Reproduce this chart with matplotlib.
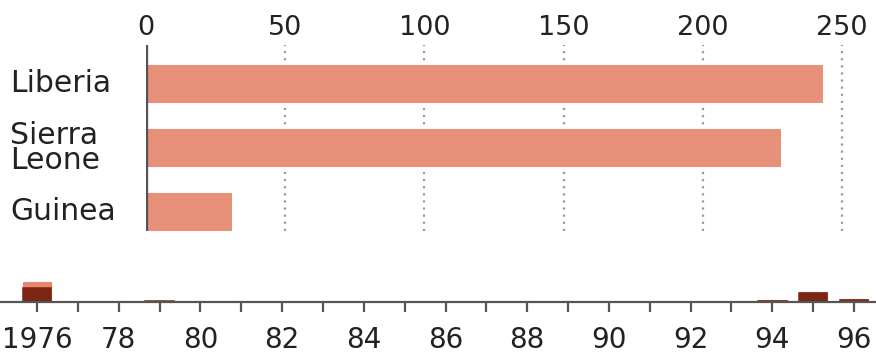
import matplotlib
matplotlib.use("Agg")
import matplotlib.pyplot as plt
import matplotlib.transforms as mtransforms
import numpy as np

# Top panel: totals by country
countries = ["Liberia", "Sierra\nLeone", "Guinea"]
country_values = [243, 228, 31]
top_ticks = [0, 50, 100, 150, 200, 250]

# Bottom panel: yearly cases and deaths
years = [1976, 1977, 1979, 1994, 1995, 1996]
cases = [602, 1, 34, 52, 315, 85]
deaths = [431, 1, 22, 32, 262, 66]
year_ticks = list(range(1976, 1997))
year_labels = ["1976" if y == 1976 else (f"{y % 100:02d}" if y % 2 == 0 else "") for y in year_ticks]

W, H = 876, 354
DPI = 100
fig = plt.figure(figsize=(W / DPI, H / DPI), dpi=DPI)
plt.rcParams["font.family"] = ["DejaVu Sans"]

text_col = "#222222"
bar_col = "#E8917A"
light_col = "#E8876C"
dark_col = "#7B2512"
axis_col = "#555555"

def px_box(left, top, right, bottom):
    return [left / W, 1 - bottom / H, (right - left) / W, (bottom - top) / H]

# ---- top bar chart ----
ax = fig.add_axes(px_box(146, 45, 876, 231))
ypos = np.arange(len(countries))
ax.barh(ypos, country_values, height=0.594, color=bar_col, zorder=2)
px_per_unit = (842 - 146) / 250
ax.set_xlim(0, (876 - 146) / px_per_unit)
ax.set_ylim(2 + (231 - 212) / 64, -(84 - 45) / 64)
for t in top_ticks[1:]:
    ax.axvline(t, color="#9a9a9a", lw=1.6, ls=(0, (1, 2.2)), zorder=1)
ax.axvline(0, color=axis_col, lw=2.4, zorder=3)
for s in ax.spines.values():
    s.set_visible(False)
ax.xaxis.tick_top()
ax.set_xticks(top_ticks)
ax.set_xticklabels([str(t) for t in top_ticks], fontsize=19.5, color=text_col)
ax.tick_params(axis="x", length=0, pad=3)
ax.set_yticks([])
trans = mtransforms.blended_transform_factory(fig.transFigure, ax.transData)
for y, name in zip(ypos, countries):
    ax.text(10 / W, y, name, transform=trans, ha="left", va="center",
            fontsize=21.5, color=text_col, linespacing=0.82)

# ---- bottom timeline ----
ax2 = fig.add_axes(px_box(0, 262, 876, 302))
px_per_year = (854 - 37) / 20
ax2.set_xlim(1976 - 37 / px_per_year, 1996 + (876 - 854) / px_per_year)
ax2.set_ylim(0, 602 * 40 / 20)
ax2.bar(years, cases, width=0.7, color=light_col, edgecolor=light_col, lw=0.8, zorder=2)
ax2.bar(years, deaths, width=0.7, color=dark_col, edgecolor=dark_col, lw=1.1, zorder=3)
for side in ["top", "left", "right"]:
    ax2.spines[side].set_visible(False)
ax2.spines["bottom"].set_color(axis_col)
ax2.spines["bottom"].set_linewidth(1.6)
ax2.spines["bottom"].set_zorder(4)
ax2.set_yticks([])
ax2.set_xticks(year_ticks)
ax2.set_xticklabels(year_labels, fontsize=20, color=text_col)
ax2.tick_params(axis="x", length=7, width=1.6, color=axis_col, pad=10)

fig.savefig("out.png", dpi=DPI)
